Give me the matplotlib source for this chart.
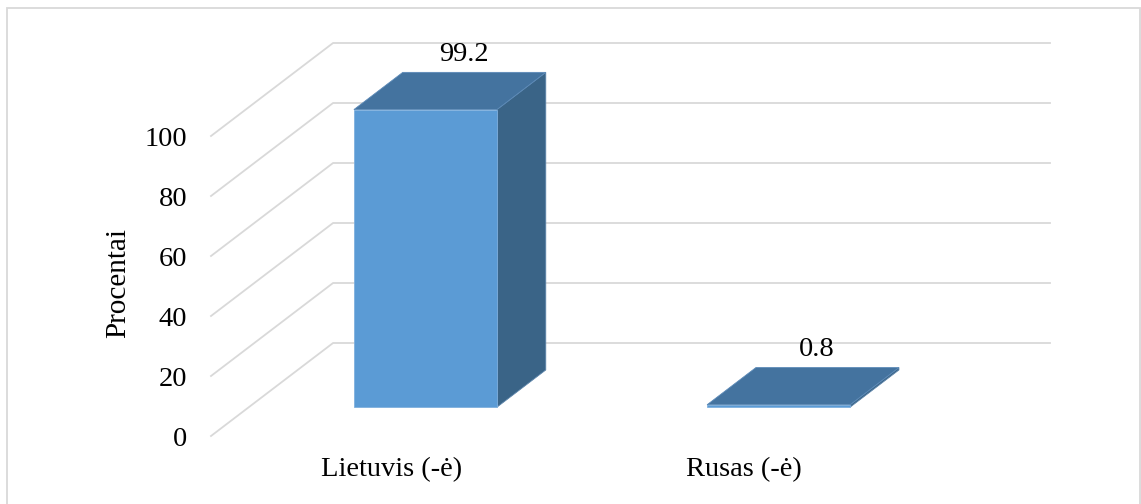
import matplotlib.pyplot as plt
from matplotlib.patches import Polygon, Rectangle

# data
categories = ['Lietuvis (-ė)', 'Rusas (-ė)']
values = [99.2, 0.8]
value_labels = ['99.2', '0.8']
y_ticks = [0, 20, 40, 60, 80, 100]

plt.rcParams['font.family'] = ['Liberation Serif', 'DejaVu Serif']

W, H = 1141, 504
fig = plt.figure(figsize=(W / 100, H / 100), dpi=100)

# pseudo 3d: depth 0 is the front plane, depth 1 the back wall
DX = 122 / 353   # horizontal shift for full depth, in category units
DY = 31          # vertical shift for full depth, in value units
x_left, x_right = -0.51, 1.52
y_top = 100 + DY

ax = fig.add_axes([211 / W, (H - 436) / H, (1050 - 211) / W, (436 - 43) / H])
ax.set_xlim(x_left, x_right + DX)
ax.set_ylim(0, y_top)
for s in ax.spines.values():
    s.set_visible(False)


def proj(x, y, d):
    return (x + d * DX, y + d * DY)


grid_col = '#D9D9D9'
for v in y_ticks:
    p0 = proj(x_left, v, 0)
    p1 = proj(x_left, v, 1)
    p2 = proj(x_right, v, 1)
    ax.plot([p0[0], p1[0], p2[0]], [p0[1], p1[1], p2[1]],
            color=grid_col, lw=1.3, zorder=1, clip_on=False)

# bars as boxes
bw = 0.405
d0, d1 = 0.31, 0.71
front_col = '#5B9BD5'
top_col = '#44739F'
side_col = '#3A6487'
for i, v in enumerate(values):
    xl, xr = i - 0.01 - bw / 2, i - 0.01 + bw / 2
    front = [proj(xl, 0, d0), proj(xr, 0, d0), proj(xr, v, d0), proj(xl, v, d0)]
    side = [proj(xr, 0, d0), proj(xr, 0, d1), proj(xr, v, d1), proj(xr, v, d0)]
    top = [proj(xl, v, d0), proj(xr, v, d0), proj(xr, v, d1), proj(xl, v, d1)]
    ax.add_patch(Polygon(side, closed=True, fc=side_col, ec='#5C84AA', lw=0.6, zorder=3))
    ax.add_patch(Polygon(front, closed=True, fc=front_col, ec='#7FB0DE', lw=0.6, zorder=4))
    ax.add_patch(Polygon(top, closed=True, fc=top_col, ec='#5C8AB8', lw=0.6, zorder=5))
    lx, ly = proj(i, v, d1)
    ax.text(lx - 0.04, ly + 6, value_labels[i], ha='center', va='center',
            fontsize=20.5, color='black', zorder=6)

ax.set_yticks(y_ticks)
ax.set_yticklabels([str(t) for t in y_ticks], fontsize=20.5)
ax.set_xticks(range(len(categories)))
ax.set_xticklabels(categories, fontsize=20.5)
ax.tick_params(axis='both', length=0)
ax.tick_params(axis='y', pad=17)
ax.tick_params(axis='x', pad=15)

fig.text(118 / W, 1 - 283 / H, 'Procentai', rotation=90, ha='center', va='center',
         fontsize=21)

# chart area border
fig.patches.append(Rectangle((7 / W, -0.01), (1140 - 7) / W, 1.01 - 8 / H,
                             transform=fig.transFigure, fill=False,
                             ec='#D9D9D9', lw=1.3))

fig.savefig('out.png', dpi=100)
